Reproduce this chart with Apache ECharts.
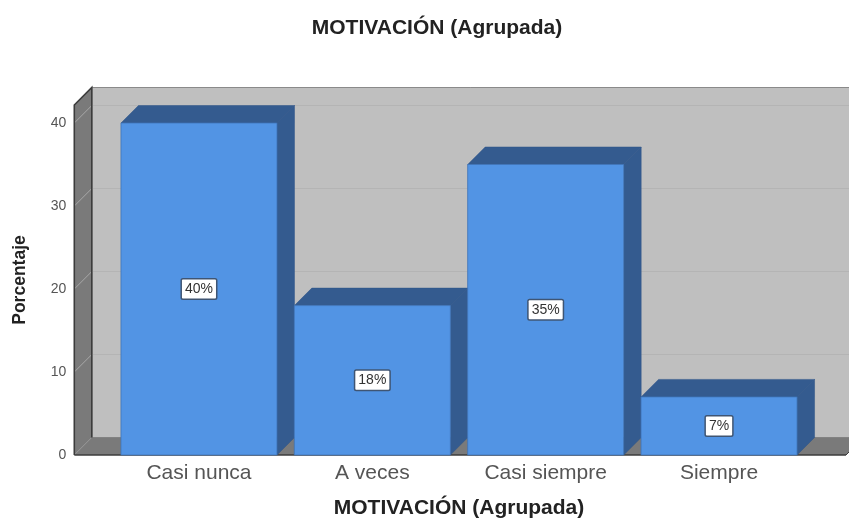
<!DOCTYPE html>
<html>
<head>
<meta charset="utf-8">
<title>MOTIVACIÓN (Agrupada)</title>
<script src="https://cdn.jsdelivr.net/npm/echarts@6/dist/echarts.min.js"></script>
<style>
  html, body { margin: 0; padding: 0; background: #fff; }
  #chart { width: 849px; height: 518px; }
</style>
</head>
<body>
<div id="chart"></div>
<script>
var chartTitle = 'MOTIVACIÓN (Agrupada)';
var yAxisName = 'Porcentaje';
var categories = ['Casi nunca', 'A veces', 'Casi siempre', 'Siempre'];
var percentages = [40, 18, 35, 7];
var barLabels = ['40%', '18%', '35%', '7%'];
var yTicks = [0, 10, 20, 30, 40];

var depth = 17.5;      // 3d offset of the box, px
var wallInset = 38;    // front of the box starts left of the first band
var font = '"Liberation Sans", Arial, sans-serif';

function renderWalls(params, api) {
  var g = params.coordSys;
  var left = g.x - wallInset, right = 846, top = g.y, bottom = g.y + g.height;
  var kids = [
    // back wall
    { type: 'polygon', shape: { points: [[left + depth, top - depth], [870, top - depth], [870, bottom - depth], [left + depth, bottom - depth]] },
      style: { fill: '#bfbfbf', stroke: '#8a8a8a', lineWidth: 1 } },
    // left wall
    { type: 'polygon', shape: { points: [[left, top], [left + depth, top - depth], [left + depth, bottom - depth], [left, bottom]] },
      style: { fill: '#7a7a7a' } },
    // floor
    { type: 'polygon', shape: { points: [[left, bottom], [left + depth, bottom - depth], [right + depth, bottom - depth], [right, bottom]] },
      style: { fill: '#7a7a7a' } }
  ];
  yTicks.forEach(function (t) {
    if (t === 0) return;
    var y = api.coord([0, t])[1];
    kids.push({ type: 'line', shape: { x1: left, y1: y, x2: left + depth, y2: y - depth }, style: { stroke: '#a8a8a8', lineWidth: 1 } });
    kids.push({ type: 'line', shape: { x1: left + depth, y1: y - depth, x2: 870, y2: y - depth }, style: { stroke: '#b4b4b4', lineWidth: 1 } });
  });
  kids.push({ type: 'polyline', shape: { points: [[left, bottom], [left, top], [left + depth, top - depth], [left + depth, bottom - depth]] },
    style: { fill: 'none', stroke: '#3c3c3c', lineWidth: 1.6 } });
  kids.push({ type: 'line', shape: { x1: left, y1: bottom, x2: right, y2: bottom }, style: { stroke: '#3c3c3c', lineWidth: 1.5 } });
  kids.push({ type: 'line', shape: { x1: right, y1: bottom, x2: right + depth, y2: bottom - depth }, style: { stroke: '#3c3c3c', lineWidth: 1 } });
  return { type: 'group', children: kids };
}

function renderBar(params, api) {
  var p = api.coord([api.value(0), api.value(1)]);
  var base = api.coord([api.value(0), 0]);
  var w = api.size([1, 0])[0] * 0.9;
  var x0 = p[0] - w / 2, x1 = p[0] + w / 2, y0 = p[1], y1 = base[1];
  var midY = (y0 + y1) / 2;
  return {
    type: 'group',
    children: [
      { type: 'polygon', shape: { points: [[x0, y0], [x0 + depth, y0 - depth], [x1 + depth, y0 - depth], [x1, y0]] },
        style: { fill: '#345b8f', stroke: '#2f5488', lineWidth: 0.5 } },
      { type: 'polygon', shape: { points: [[x1, y0], [x1 + depth, y0 - depth], [x1 + depth, y1 - depth], [x1, y1]] },
        style: { fill: '#345b8f', stroke: '#2f5488', lineWidth: 0.5 } },
      { type: 'rect', shape: { x: x0, y: y0, width: w, height: y1 - y0 },
        style: { fill: '#5294e4', stroke: '#3f74b8', lineWidth: 0.8 } },
      { type: 'text', x: p[0], y: midY,
        style: {
          text: barLabels[params.dataIndex], fill: '#333', font: '14px ' + font,
          align: 'center', verticalAlign: 'middle',
          backgroundColor: '#fff', borderColor: '#3f5573', borderWidth: 1.5, borderRadius: 1,
          padding: [3, 3, 2, 3]
        } }
    ]
  };
}

var chart = echarts.init(document.getElementById('chart'), null, { renderer: 'canvas' });
chart.setOption({
  animation: false,
  backgroundColor: '#fff',
  title: {
    text: chartTitle, left: 432, top: 13, textAlign: 'center',
    textStyle: { fontFamily: font, fontSize: 21, fontWeight: 'bold', color: '#222' }
  },
  grid: { left: 112.3, right: 43.3, top: 105, bottom: 63, outerBoundsMode: 'none' },
  xAxis: {
    type: 'category', data: categories,
    name: chartTitle, nameLocation: 'middle', nameGap: 43,
    nameTextStyle: { fontFamily: font, fontSize: 21, fontWeight: 'bold', color: '#222' },
    axisLine: { show: false }, axisTick: { show: false },
    axisLabel: { fontFamily: font, fontSize: 21, color: '#555', margin: 8 }
  },
  yAxis: {
    type: 'value', min: 0, max: 42.17, interval: 10, offset: wallInset,
    name: yAxisName, nameLocation: 'middle', nameGap: 45,
    nameTextStyle: { fontFamily: font, fontSize: 17.5, fontWeight: 'bold', color: '#222' },
    axisLine: { show: false }, axisTick: { show: false }, splitLine: { show: false },
    axisLabel: { fontFamily: font, fontSize: 14, color: '#555', margin: 8, showMaxLabel: false }
  },
  series: [
    { type: 'custom', silent: true, z: 1, renderItem: renderWalls, data: [[0, 0]] },
    { type: 'custom', silent: true, z: 2, renderItem: renderBar,
      encode: { x: 0, y: 1 },
      data: percentages.map(function (v, i) { return [i, v]; }) }
  ]
});
</script>
</body>
</html>
